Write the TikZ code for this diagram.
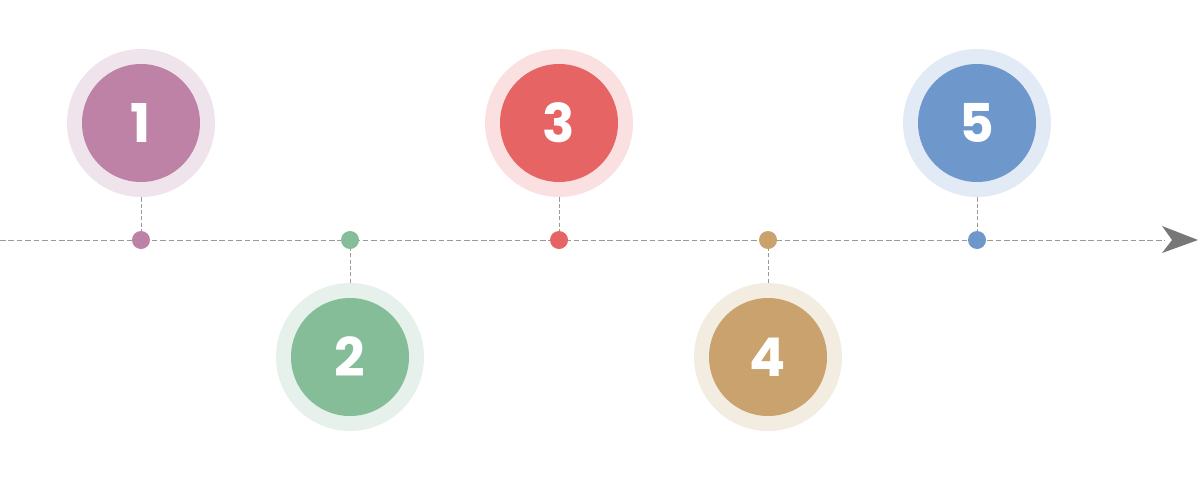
\documentclass[tikz,border=0pt]{standalone}
\usepackage{fontspec}
\setmainfont{Poppins}[BoldFont={* Bold}]
\usetikzlibrary{arrows.meta}
\definecolor{cA}{HTML}{BD82A6}\definecolor{cAl}{HTML}{F0E4EC}
\definecolor{cB}{HTML}{84BD98}\definecolor{cBl}{HTML}{E5F1EA}
\definecolor{cC}{HTML}{E66464}\definecolor{cCl}{HTML}{FAE0E0}
\definecolor{cD}{HTML}{C9A26E}\definecolor{cDl}{HTML}{F3ECE1}
\definecolor{cE}{HTML}{6E98CB}\definecolor{cEl}{HTML}{E1EAF5}
\definecolor{axisgray}{HTML}{9A9A9A}
\definecolor{arrowgray}{HTML}{777777}
\begin{document}
\begin{tikzpicture}[x=0.025cm,y=-0.025cm,
  halo/.style={circle,minimum size=148*0.025cm,inner sep=0pt},
  disc/.style={circle,minimum size=118*0.025cm,inner sep=0pt},
  dot/.style={circle,minimum size=18*0.025cm,inner sep=0pt},
  num/.style={text=white,font=\bfseries\fontsize{38}{38}\selectfont},
  axisline/.style={draw=axisgray,line width=0.7pt,dash pattern=on 4pt off 2pt},
  stemline/.style={draw=axisgray,line width=0.6pt,dash pattern=on 3pt off 1.5pt}]
\useasboundingbox (0,0) rectangle (1200,480);
\coordinate (start) at (0,240);
\coordinate (shaft) at (1165,240);
\draw[axisline] (start) -- (shaft);
\draw[draw=none,fill=arrowgray] (1198,240) -- (1162,226) -- (1172,240) -- (1162,253) -- cycle;
\foreach \n/\x/\y/\c in {1/141/123/cA,2/350/357/cB,3/559/123/cC,4/768/357/cD,5/977/123/cE}{
  \node[halo,fill=\c l] (h\n) at (\x,\y) {};
  \node[disc,fill=\c] (d\n) at (\x,\y) {};
  \node[dot,fill=\c] (p\n) at (\x,240) {};
  \draw[stemline] (h\n) -- (p\n);
  \node[num] (t\n) at (\x,\y) {\n};
}
\end{tikzpicture}
\end{document}
